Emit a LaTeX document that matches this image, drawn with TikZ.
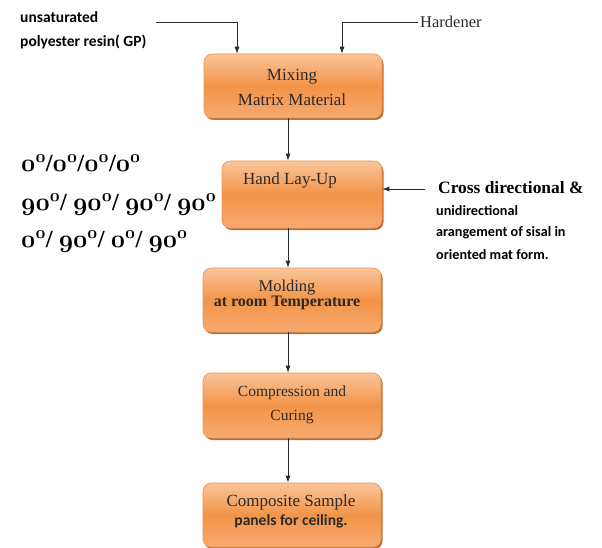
\documentclass[tikz,border=0pt]{standalone}
\usepackage{fontspec}
\setmainfont{Liberation Serif}
\newfontfamily\carl{Carlito}
\usetikzlibrary{shadows,arrows.meta}
\definecolor{boxtop}{HTML}{F9C59A}
\definecolor{boxmid}{HTML}{F39448}
\definecolor{boxbot}{HTML}{F7AA70}
\definecolor{boxedge}{HTML}{EE9450}
\definecolor{boxshadow}{HTML}{B55E20}
\definecolor{ink}{HTML}{2A2A2A}
\newcommand\osn[1]{{\usefont{OML}{cmm}{b}{it}#1}}
\newcommand\dgr{\textsuperscript{\osn{0}}}
\tikzset{
  procbox/.style={draw=boxedge, line width=0.6pt, rounded corners=8pt,
    top color=boxtop, bottom color=boxbot, middle color=boxmid,
    drop shadow={shadow xshift=1.5pt, shadow yshift=-2pt, fill=boxshadow, opacity=0.9}},
  boxtext/.style={text=ink, align=center, font=\fontsize{17}{25}\selectfont},
  arr/.style={draw=ink, line width=0.8pt, -{Latex[length=7pt,width=5pt]}},
  sidetext/.style={anchor=west, text=black, font=\carl\bfseries\fontsize{14.2}{16}\selectfont, inner sep=0pt},
  angtext/.style={anchor=west, text=black, font=\bfseries\fontsize{24.5}{28}\selectfont, inner sep=0pt}
}
\begin{document}
\begin{tikzpicture}[x=1pt,y=-1pt]
\useasboundingbox (0,0) rectangle (602,548);
% boxes
\node[procbox, minimum width=178pt, minimum height=64pt] (b1) at (293,86) {};
\node[procbox, minimum width=160pt, minimum height=67pt] (b2) at (302,194.5) {};
\node[procbox, minimum width=178pt, minimum height=64pt] (b3) at (292,300) {};
\node[procbox, minimum width=178pt, minimum height=65pt] (b4) at (292,405.5) {};
\node[procbox, minimum width=178pt, minimum height=64pt] (b5) at (292,515) {};
% box texts
\node[boxtext] (t1) at (292,87) {Mixing\\Matrix Material};
\node[boxtext] (t2) at (290,180) {Hand Lay-Up};
\node[boxtext, font=\fontsize{16.5}{15}\selectfont] (t3) at (287,295) {Molding\\{\bfseries\fontsize{16}{15}\selectfont at room Temperature}};
\node[boxtext, font=\fontsize{15.5}{24}\selectfont] (t4) at (292,405) {Compression and\\Curing};
\node[boxtext, font=\fontsize{17}{19}\selectfont] (t5) at (291,511) {Composite Sample\\{\carl\bfseries\fontsize{15.5}{19}\selectfont panels for ceiling.}};
% vertical flow arrows
\coordinate (ax) at (288,0);
\draw[arr] (b1.south -| ax) -- (b2.north -| ax);
\draw[arr] (b2.south -| ax) -- (b3.north -| ax);
\draw[arr] (b3.south -| ax) -- (b4.north -| ax);
\draw[arr] (b4.south -| ax) -- (b5.north -| ax);
% inputs
\node[sidetext, font=\carl\bfseries\fontsize{15.5}{16}\selectfont] (u1) at (20,17) {unsaturated};
\node[sidetext, font=\carl\bfseries\fontsize{15.5}{16}\selectfont] (u2) at (20,42) {polyester resin( GP)};
\coordinate (r0) at (156,22);
\coordinate (ra) at (237,0);
\draw[arr] (r0) -| (b1.north -| ra);
\node[anchor=west, inner sep=0pt, text=ink, font=\fontsize{16.5}{18}\selectfont] (hard) at (420,22) {Hardener};
\coordinate (rb) at (342,0);
\draw[arr] ([xshift=-2pt]hard.west) -| (b1.north -| rb);
% right side
\coordinate (c0) at (425,189);
\draw[arr] (c0) -- (b2.east |- c0);
\node[anchor=west, inner sep=0pt, font=\bfseries\fontsize{17.4}{19}\selectfont] (cr1) at (438,188) {Cross directional \&};
\node[sidetext] (cr2) at (436,211) {unidirectional};
\node[sidetext] (cr3) at (436,233) {arangement of sisal in};
\node[sidetext] (cr4) at (436,255) {oriented mat form.};
% left orientation text
\node[angtext] (o1) at (21,163) {\osn{0}\dgr/\osn{0}\dgr/\osn{0}\dgr/\osn{0}\dgr};
\node[angtext] (o2) at (21,205) {\osn{90}\dgr/ \osn{90}\dgr/ \osn{90}\dgr/ \osn{90}\dgr};
\node[angtext] (o3) at (21,242) {\osn{0}\dgr/ \osn{90}\dgr/ \osn{0}\dgr/ \osn{90}\dgr};
\end{tikzpicture}
\end{document}
